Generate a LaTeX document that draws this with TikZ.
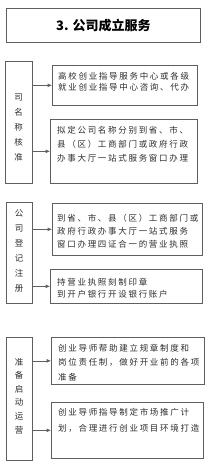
\documentclass[tikz,border=0pt]{standalone}
\usepackage{fontspec}
\setmainfont{Liberation Sans}
\newfontfamily\cjk[LetterSpace=20]{Noto Sans CJK SC}
\newfontfamily\cjkplain{Noto Sans CJK SC}
\usetikzlibrary{arrows.meta,positioning}
\definecolor{FrameGray}{RGB}{95,95,95}
\definecolor{InkGray}{RGB}{45,45,45}
\tikzset{
  frame/.style={draw=FrameGray,line width=0.7pt,anchor=north west,inner sep=0pt},
  body/.style={font=\cjk\fontsize{8.5}{#1}\selectfont,text=InkGray,align=left,
    anchor=north west,inner sep=0pt},
  body/.default=13,
  side/.style={font=\cjkplain\fontsize{8.5}{#1}\selectfont,text=InkGray,align=center,inner sep=0pt},
  side/.default=15,
  link/.style={-{Latex[length=1.5mm,width=1.3mm]},FrameGray,line width=0.6pt}
}
\newcommand{\boxat}[5]{% name, x, y, width, height
  \node[frame,minimum width=#4pt,minimum height=#5pt] (#1) at (#2,#3) {};}

\begin{document}
\begin{tikzpicture}[x=1pt,y=-1pt]
  \useasboundingbox (0,0) rectangle (209,470);
  % title
  \boxat{title}{6}{8}{194}{34}
  \node[font=\bfseries\cjkplain\fontsize{13}{15}\selectfont,text=black] (titletxt) at (title.center) {3. 公司成立服务};
  % name check
  \boxat{s1}{5}{61}{27}{122}
  \node[side] (s1txt) at (18.5,128) {司\\名\\称\\核\\准};
  \boxat{b1a}{52}{65}{145}{40}
  \node[body=11] (b1atxt) at (58,71.7) {高校创业指导服务中心或各级\\就业创业指导中心咨询、代办};
  \boxat{b1b}{50}{119}{147}{64}
  \node[body=14] (b1btxt) at (57,125.7) {拟定公司名称分别到省、市、\\县（区）工商部门或政府行政\\办事大厅一站式服务窗口办理};
  \draw[link] (s1.east |- b1a.west) -- (b1a.west);
  \draw[link] (s1.east |- b1b.west) -- (b1b.west);
  % registration
  \boxat{s2}{6}{202}{26}{101}
  \node[side] (s2txt) at (19,250.5) {公\\司\\登\\记\\注\\册};
  \boxat{b2a}{52}{203}{150}{52}
  \node[body=13] (b2atxt) at (57,213.7) {到省、市、县（区）工商部门或\\政府行政办事大厅一站式服务\\窗口办理四证合一的营业执照};
  \boxat{b2b}{50}{269}{152}{34}
  \node[body=12] (b2btxt) at (57,277.7) {持营业执照刻制印章\\到开户银行开设银行账户};
  \draw[link] (s2.east |- b2a.west) -- (b2a.west);
  \draw[link] (s2.east |- b2b.west) -- (b2b.west);
  % start up
  \boxat{s3}{6}{337}{26}{123}
  \node[side=13.6] (s3txt) at (19,396) {准\\备\\启\\动\\运\\营};
  \boxat{b3a}{51}{337}{153}{47}
  \node[body=14.5] (b3atxt) at (58,343.7) {创业导师帮助建立规章制度和\\岗位责任制，做好开业前的各项\\准备};
  \boxat{b3b}{51}{402}{152}{56}
  \node[body=16] (b3btxt) at (58,407.7) {创业导师指导制定市场推广计\\划，合理进行创业项目环境打造};
  \draw[link] (s3.east |- b3a.west) -- (b3a.west);
  \draw[link] (s3.east |- b3b.west) -- (b3b.west);
\end{tikzpicture}
\end{document}
